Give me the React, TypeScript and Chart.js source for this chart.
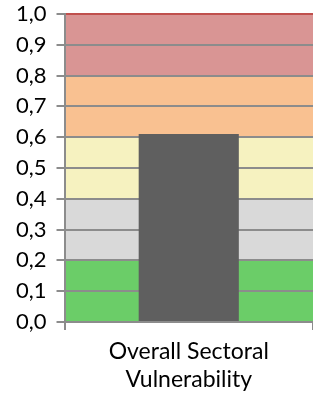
import React, { useEffect, useRef } from "react";
import { Chart, registerables } from "chart.js";

Chart.register(...registerables);

const categories = [["Overall Sectoral", "Vulnerability"]];
const values = [0.61];
const bandLimits = [0, 0.2, 0.4, 0.6, 0.8, 1.0];
const bandColors = ["#6BCD68", "#D9D9D9", "#F6F2C0", "#F9C191", "#D99594"];
const barColor = "#5F5F5F";
const FONT = "Lato, 'Noto Sans', sans-serif";

const bandsPlugin = {
  id: "bands",
  beforeDraw(chart: any) {
    const { ctx, chartArea, scales } = chart;
    const y = scales.y;
    ctx.save();
    for (let i = 0; i < bandColors.length; i++) {
      const top = y.getPixelForValue(bandLimits[i + 1]);
      const bottom = y.getPixelForValue(bandLimits[i]);
      ctx.fillStyle = bandColors[i];
      ctx.fillRect(chartArea.left, top, chartArea.right - chartArea.left, bottom - top);
    }
    ctx.restore();
  },
};

export default function App() {
  const ref = useRef<HTMLCanvasElement>(null);
  useEffect(() => {
    document.body.style.margin = "0";
    const chart = new Chart(ref.current!, {
      type: "bar",
      data: {
        labels: categories as any,
        datasets: [
          {
            data: values,
            backgroundColor: barColor,
            categoryPercentage: 1,
            barPercentage: 0.403,
          },
        ],
      },
      options: {
        animation: false,
        responsive: false,
        maintainAspectRatio: false,
        layout: { padding: { top: 0, right: 0, left: 6, bottom: 0 } },
        plugins: { legend: { display: false }, tooltip: { enabled: false } },
        scales: {
          x: {
            offset: true,
            border: { display: true, color: "#8C8C8C", width: 2 },
            grid: {
              display: true,
              drawOnChartArea: false,
              drawTicks: true,
              tickLength: 8,
              color: "#8C8C8C",
              lineWidth: 2,
            },
            ticks: {
              color: "#000",
              font: { family: FONT, size: 23, lineHeight: 1.2 },
              padding: 8,
              maxRotation: 0,
            },
            afterFit: (s: any) => {
              s.height = 72;
            },
          },
          y: {
            min: 0,
            max: 1,
            border: { display: true, color: "#8C8C8C", width: 2 },
            grid: {
              color: (c: any) => (c.tick && c.tick.value === 1 ? "#C0504D" : "#8C8C8C"),
              lineWidth: 2,
              tickLength: 8,
              tickColor: "#8C8C8C",
            },
            ticks: {
              stepSize: 0.1,
              autoSkip: false,
              color: "#000",
              padding: 10,
              font: { family: FONT, size: 22, lineHeight: 1.0 },
              callback: (v: any) => Number(v).toFixed(1).replace(".", ","),
            },
            afterFit: (s: any) => {
              s.paddingTop = 14;
              s.paddingBottom = 0;
            },
          },
        },
      },
      plugins: [bandsPlugin],
    });
    return () => chart.destroy();
  }, []);
  return (
    <div style={{ width: 313, height: 394 }}>
      <canvas ref={ref} width={313} height={394} style={{ display: "block" }} />
    </div>
  );
}
